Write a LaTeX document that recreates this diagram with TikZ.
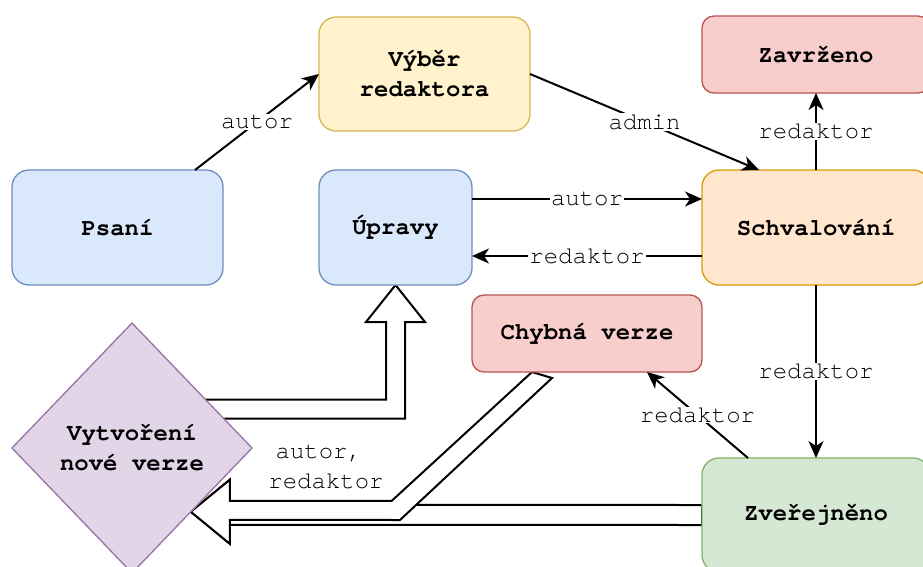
\documentclass[tikz,border=0pt]{standalone}
\usepackage{fontspec}
\setmonofont{TeX Gyre Cursor}
\usetikzlibrary{positioning,shapes.geometric,arrows.meta,calc}
\usepackage{xcolor}

\definecolor{bluefill}{HTML}{DAE8FC}
\definecolor{blueline}{HTML}{6C8EBF}
\definecolor{yellowfill}{HTML}{FFF2CC}
\definecolor{yellowline}{HTML}{D6B656}
\definecolor{redfill}{HTML}{F8CECC}
\definecolor{redline}{HTML}{B85450}
\definecolor{orangefill}{HTML}{FFE6CC}
\definecolor{orangeline}{HTML}{D79B00}
\definecolor{greenfill}{HTML}{D5E8D4}
\definecolor{greenline}{HTML}{82B366}
\definecolor{purplefill}{HTML}{E1D5E7}
\definecolor{purpleline}{HTML}{9673A6}

\pgfdeclarelayer{back}
\pgfsetlayers{back,main}

\begin{document}
\begin{tikzpicture}[%
    x=1pt, y=-1pt,
    ->,
    >={Stealth[length=17pt,width=15pt,inset=5pt]},
    line width=2pt,
    node distance=96pt,
    every node/.style={font=\ttfamily\fontsize{24}{30}\selectfont},
    state/.style={%
      rectangle,
      rounded corners=17pt,
      minimum width=228pt,
      minimum height=115pt,
      inner sep=0pt,
      outer sep=0pt,
      line width=1.3pt,
      align=center,
      font=\ttfamily\bfseries\fontsize{24}{30}\selectfont,
      draw
    },
    bluebox/.style={state, fill=bluefill, draw=blueline},
    yellowbox/.style={state, fill=yellowfill, draw=yellowline},
    redbox/.style={state, rounded corners=12pt, minimum height=77pt, fill=redfill, draw=redline},
    orangebox/.style={state, fill=orangefill, draw=orangeline},
    greenbox/.style={state, fill=greenfill, draw=greenline},
    choice/.style={%
      diamond,
      minimum width=240pt,
      minimum height=250pt,
      inner sep=0pt,
      outer sep=0pt,
      line width=1.3pt,
      align=center,
      font=\ttfamily\bfseries\fontsize{24}{30}\selectfont,
      fill=purplefill,
      draw=purpleline
    },
    lbl/.style={fill=white, inner sep=1pt},
    hollow/.style={-, draw=black, fill=white, line width=2pt, line join=miter}
  ]
    \useasboundingbox (0,0) rectangle (923,566);

    \node[bluebox, minimum width=211pt] (psani) at (117.5,227.5)         {Psaní};
    \node[bluebox, minimum width=153pt] (upravy) [right=of psani]       {Úpravy};
    \node[orangebox] (schval) [node distance=230pt,right=of upravy]     {Schvalování};
    \node[redbox] (zavr) [node distance=77pt,above=of schval]           {Zavrženo};
    \node[greenbox, minimum height=114pt] (zver) [node distance=173pt,below=of schval] {Zveřejněno};
    \node[yellowbox, minimum width=211pt, minimum height=114pt] (vyber) at (424.5,74) {Výběr\\redaktora};
    \node[redbox, minimum width=230pt] (chybna) [below right=10pt and 0pt of upravy] {Chybná verze};
    \node[choice] (nova) at (132,448)                                   {Vytvoření\\nové verze};

    \path ([xshift=77.5pt]psani.north) edge node[lbl] {autor} (vyber.west)
          (vyber.east) edge node[lbl] {admin} ([xshift=-57pt]schval.north)
          ([yshift=28.5pt]upravy.east) edge node[lbl] {autor} ([yshift=28.5pt]schval.west)
          ([yshift=-28.5pt]schval.west) edge node[lbl] {redaktor} ([yshift=-28.5pt]upravy.east)
          (schval.north) edge node[lbl] {redaktor} (zavr.south)
          (schval.south) edge node[lbl] {redaktor} (zver.north)
          ([xshift=-68pt]zver.north) edge node[lbl] {redaktor} ([xshift=60pt]chybna.south)
          ;

    % wide arrows behind the boxes
    \begin{pgfonlayer}{back}
      \coordinate (vtip) at ($(nova.east)!0.51!(nova.south)$);
      \draw[hollow] (upravy.south) -- ++(29.5,37) -- ++(-20,0)
        |- ($(nova.center)+(0,-29.5)$) -- ++(0,-19)
        -| ($(upravy.south)+(-9.5,37)$) -- ++(-20,0) -- cycle;
      \draw[hollow] (vtip) -- ++(39,-32) -- ++(0,25)
        -- ($(zver.west)+(0,-10)$) -- ++(0,20)
        -- ($(vtip)+(39,13)$) -- ++(0,19) -- cycle;
      \draw[hollow] (vtip) -- ++(39,-32) -- ++(0,21) -- ++(162,0)
        -- ($(chybna.south west)+(60,0)$) -- ++(20,6) -- ++(-152,142)
        -- ($(vtip)+(39,8)$) -- ++(0,24) -- cycle;
    \end{pgfonlayer}

    \node[align=center] (kdo) at (326,467) {autor,\hphantom{x}\\redaktor};
  \end{tikzpicture}
\end{document}
